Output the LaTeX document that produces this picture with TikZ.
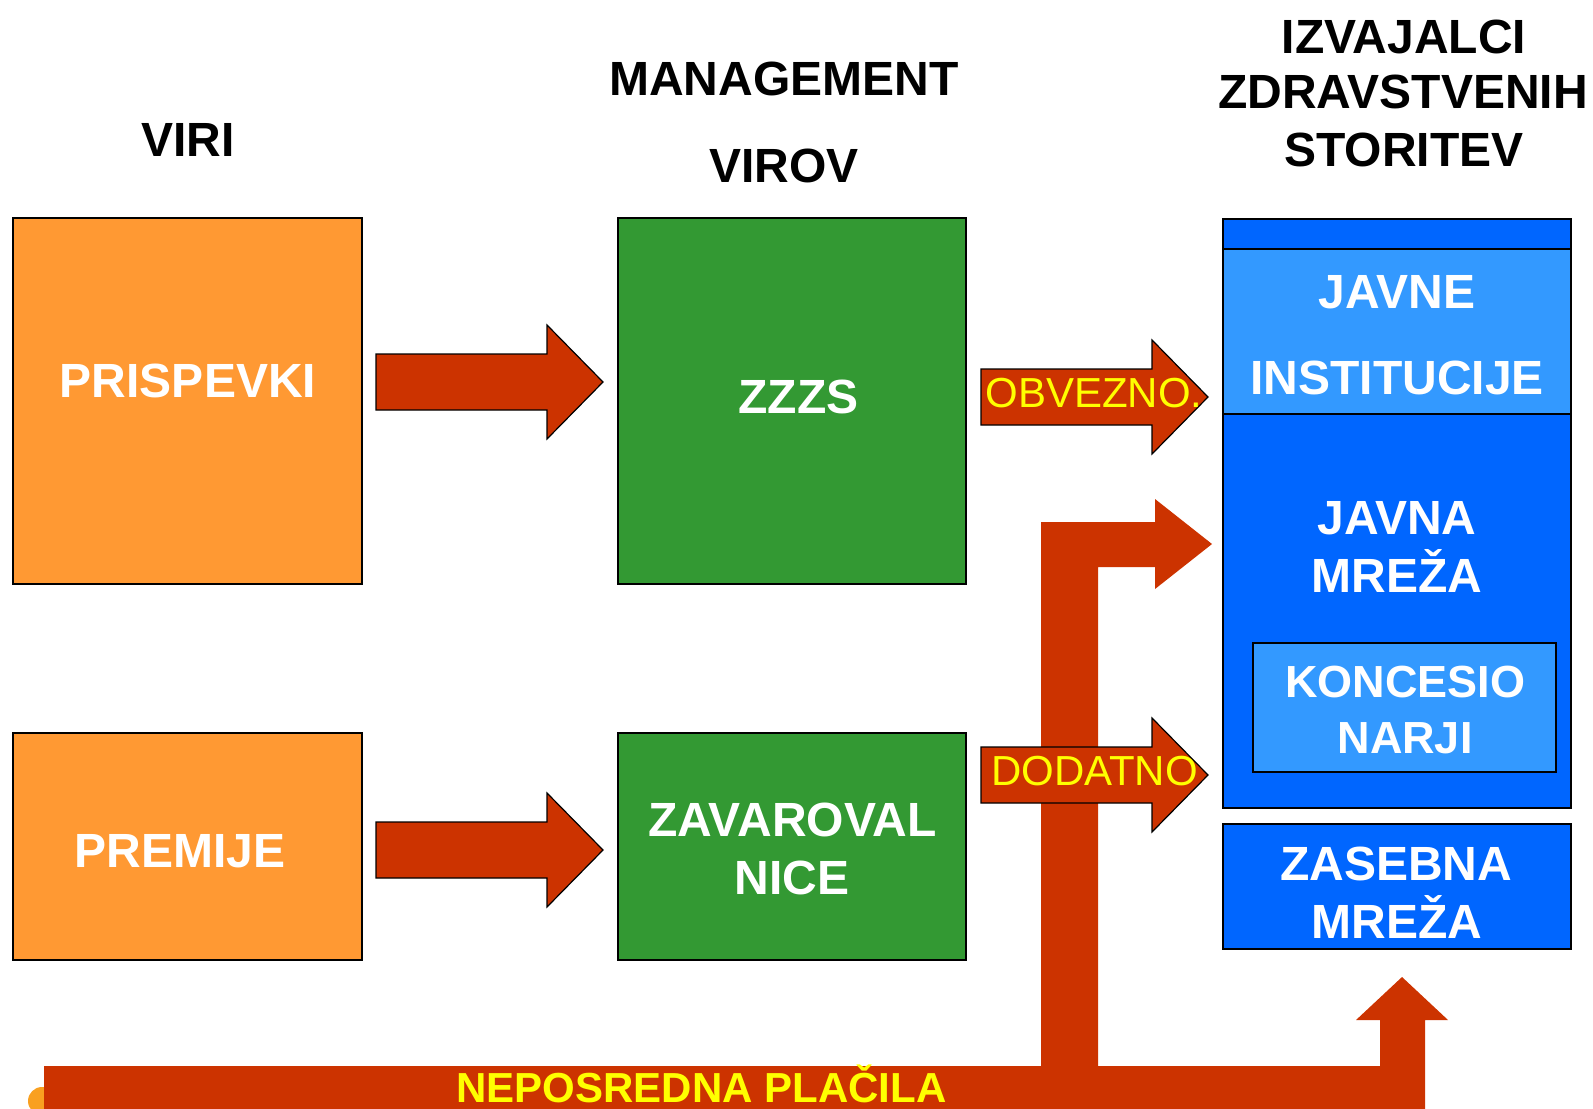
\documentclass[tikz,border=0pt]{standalone}
\usepackage{fontspec}
\setmainfont{Liberation Sans}
\usetikzlibrary{calc}
\definecolor{boxorange}{HTML}{FF9933}
\definecolor{boxgreen}{HTML}{339933}
\definecolor{arrred}{HTML}{CC3300}
\definecolor{darkblue}{HTML}{0066FF}
\definecolor{lightblue}{HTML}{3399FF}
\definecolor{txtyellow}{HTML}{FFFF00}
\definecolor{blobor}{HTML}{F9A020}
\begin{document}
\begin{tikzpicture}[x=0.5pt,y=-0.5pt,
  box/.style={draw=black, line width=0.7pt, inner sep=0pt, outer sep=0pt},
  headtxt/.style={font=\fontsize{24}{28}\selectfont\bfseries, text=black, anchor=base, inner sep=0pt},
  lbl/.style={font=\fontsize{24}{28}\selectfont\bfseries, text=white, anchor=base, inner sep=0pt},
  smalllbl/.style={font=\fontsize{22.5}{27}\selectfont\bfseries, text=white, anchor=base, inner sep=0pt},
  arrlbl/.style={font=\fontsize{21}{25}\selectfont, text=txtyellow, anchor=base, inner sep=0pt},
  barlbl/.style={font=\fontsize{21}{25}\selectfont\bfseries, text=txtyellow, anchor=base, inner sep=0pt},
  blockarrow/.style={draw=black, line width=0.6pt, fill=arrred,
    to path={let \p1=(\tikztostart), \p2=(\tikztotarget) in
      (\x1,\y1+14pt) -- (\x2-28pt,\y1+14pt) -- (\x2-28pt,\y1+28.5pt) -- (\x2,\y2)
      -- (\x2-28pt,\y1-28.5pt) -- (\x2-28pt,\y1-14pt) -- (\x1,\y1-14pt) -- cycle}}
]
\useasboundingbox (0,0) rectangle (1593,1108);

% headings
\node[headtxt] (hviri) at (188,156) {VIRI};
\node[headtxt] (hman1) at (784,95) {MANAGEMENT};
\node[headtxt] (hman2) at (784,182) {VIROV};
\node[headtxt] (hizv1) at (1404,53) {IZVAJALCI};
\node[headtxt] (hizv2) at (1403,108) {ZDRAVSTVENIH};
\node[headtxt] (hizv3) at (1404,166) {STORITEV};

% boxes
\node[box, fill=boxorange, minimum width=174.5pt, minimum height=183pt] (pris) at (187.5,401) {};
\node[box, fill=boxorange, minimum width=174.5pt, minimum height=113.5pt] (prem) at (187.5,846.5) {};
\node[box, fill=boxgreen, minimum width=174pt, minimum height=183pt] (zzzs) at (792,401) {};
\node[box, fill=boxgreen, minimum width=174pt, minimum height=113.5pt] (zav) at (792,846.5) {};
\node[box, fill=darkblue, minimum width=174pt, minimum height=294.5pt] (javbox) at (1397,513.5) {};
\node[box, fill=lightblue, minimum width=174pt, minimum height=82.5pt] (jinst) at (1397,331.5) {};
\node[box, fill=lightblue, minimum width=151.5pt, minimum height=64.5pt] (konc) at (1404.5,707.5) {};
\node[box, fill=darkblue, minimum width=174pt, minimum height=62.5pt] (zas) at (1397,886.5) {};

% arrows sources -> management
\draw[blockarrow] ($(pris.east)+(14,-19)$) to ($(zzzs.west)+(-15,-19)$);
\draw[blockarrow] ($(prem.east)+(14,3.5)$) to ($(zav.west)+(-15,3.5)$);

% direct payments bar with branches
\fill[blobor] (42,1101) circle[radius=14];
\fill[arrred] (44,1130) -- (44,1066) -- (1041,1066) -- (1041,522) -- (1155,522) -- (1155,499)
  -- (1212,544) -- (1155,589) -- (1155,567) -- (1098,567) -- (1098,1066) -- (1380,1066)
  -- (1380,1020) -- (1356,1020) -- (1402,977) -- (1448,1020) -- (1425,1020) -- (1425,1130) -- cycle;

% management -> providers
\draw[blockarrow] ($(zzzs.east)+(15,-4)$) to ($(zzzs.east -| javbox.west)+(-15,-4)$);
\draw[blockarrow] ($(zav.east)+(15,-71.5)$) to ($(zav.east -| javbox.west)+(-15,-71.5)$);

% box labels
\node[lbl] (tpris) at (188,397) {PRISPEVKI};
\node[lbl] (tprem) at (180,867) {PREMIJE};
\node[lbl] (tzzzs) at (798.5,413) {ZZZS};
\node[lbl] (tzav1) at (792.5,836) {ZAVAROVAL};
\node[lbl] (tzav2) at (792,894) {NICE};
\node[lbl] (tjav1) at (1397,308) {JAVNE};
\node[lbl] (tjav2) at (1397,394) {INSTITUCIJE};
\node[lbl] (tjm1) at (1397,534) {JAVNA};
\node[lbl] (tjm2) at (1397,592) {MREŽA};
\node[smalllbl] (tkon1) at (1405,697) {KONCESIO};
\node[smalllbl] (tkon2) at (1405,753) {NARJI};
\node[lbl] (tzas1) at (1396,880) {ZASEBNA};
\node[lbl] (tzas2) at (1397,938) {MREŽA};

% arrow labels
\node[arrlbl] (tobv) at (1094,407) {OBVEZNO.};
\node[arrlbl] (tdod) at (1094.5,785) {DODATNO};
\node[barlbl] (tnep) at (701.5,1102) {NEPOSREDNA PLAČILA};
\end{tikzpicture}
\end{document}
